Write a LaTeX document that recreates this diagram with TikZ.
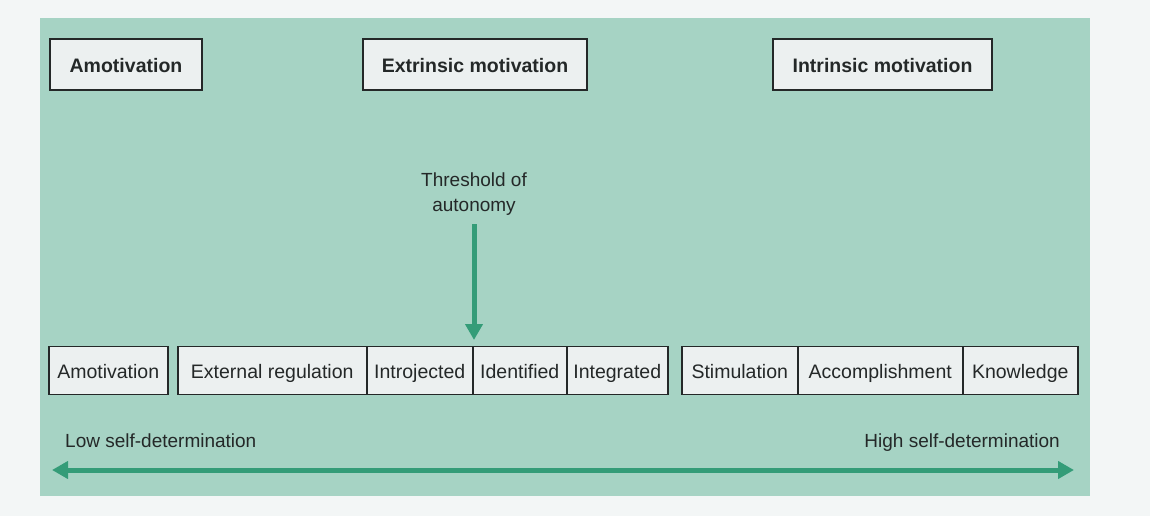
\documentclass[tikz,border=0pt]{standalone}
\usepackage{fontspec}
\setmainfont{Liberation Sans}
\usetikzlibrary{arrows.meta}
\definecolor{panel}{RGB}{166,211,196}
\definecolor{arrowgreen}{RGB}{52,156,120}
\definecolor{boxfill}{RGB}{236,240,240}
\definecolor{pagebg}{RGB}{243,246,246}
\definecolor{ink}{RGB}{36,40,40}
\tikzset{
  headbox/.style={draw=ink, line width=2pt, fill=boxfill, minimum height=51pt, inner sep=0pt,
    font=\fontsize{19.5}{22}\selectfont\bfseries, text=ink, text height=16pt, text depth=0pt},
  cellbox/.style={draw=ink, line width=1.5pt, fill=boxfill, minimum height=48pt, inner sep=0pt,
    anchor=west, font=\fontsize{19.5}{22}\selectfont, text=ink, text height=16pt, text depth=0pt},
  greenarrow/.style={draw=arrowgreen, line width=5pt},
  lbl/.style={font=\fontsize{19}{25}\selectfont, text=ink, inner sep=0pt}
}
\begin{document}
\begin{tikzpicture}[x=1pt,y=-1pt]
\useasboundingbox (0,0) rectangle (1150,516);
\fill[pagebg] (0,0) rectangle (1150,516);
\fill[panel] (40,18) rectangle (1090,496);

% top headings
\node[headbox, minimum width=152pt] (amot) at (126,65) {Amotivation};
\node[headbox, minimum width=224pt] (extr) at (475,65) {Extrinsic motivation};
\node[headbox, minimum width=219pt] (intr) at (882.5,65) {Intrinsic motivation};

% bottom row
\node[cellbox, minimum width=119pt] (c1) at (48,370.5) {Amotivation};
\node[cellbox, minimum width=189pt] (c2) at (177,370.5) {External regulation};
\node[cellbox, minimum width=106pt] (c3) at (366,370.5) {Introjected};
\node[cellbox, minimum width=94pt] (c4) at (472,370.5) {Identified};
\node[cellbox, minimum width=101pt] (c5) at (566,370.5) {Integrated};
\node[cellbox, minimum width=116pt] (c6) at (681,370.5) {Stimulation};
\node[cellbox, minimum width=165pt] (c7) at (797,370.5) {Accomplishment};
\node[cellbox, minimum width=115pt] (c8) at (962,370.5) {Knowledge};

% threshold
\node[lbl, align=center] (thr) at (474,194) {Threshold of\\autonomy};
\coordinate (thrend) at (474,340);
\draw[greenarrow, -{Triangle[length=16pt,width=17pt]}] (474,224) -- (thrend);

% self-determination axis
\node[lbl, anchor=base west] (low) at (65,447) {Low self-determination};
\node[lbl, anchor=base east] (high) at (1060,447) {High self-determination};
\coordinate (axl) at (52,470);
\coordinate (axr) at (1074,470);
\draw[greenarrow, {Triangle[length=16pt,width=17pt]}-{Triangle[length=16pt,width=17pt]}] (axl) -- (axr);
\end{tikzpicture}
\end{document}
